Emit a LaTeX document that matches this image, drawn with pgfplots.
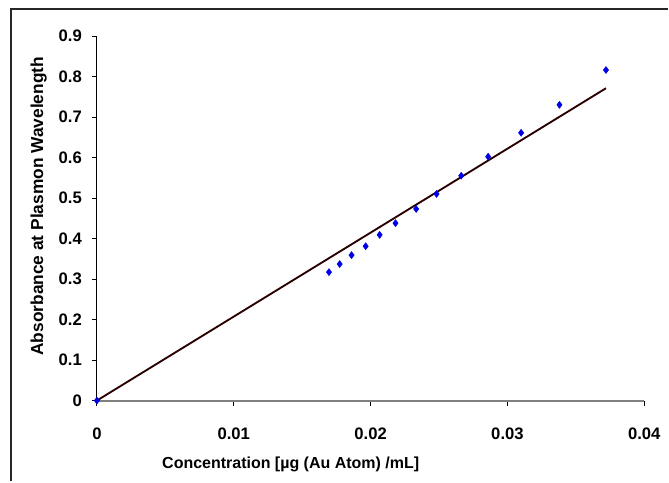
\documentclass[border=0pt]{standalone}
\usepackage{fontspec}
\setmainfont{Liberation Sans}
\usepackage{pgfplots}
\pgfplotsset{compat=1.18}

\definecolor{fitline}{RGB}{40,0,0}
\definecolor{pts}{RGB}{0,0,230}

\begin{document}
\begin{tikzpicture}
\begin{axis}[
  at={(0,0)}, anchor=south west,
  scale only axis,
  width=411pt, height=273.75pt,
  xmin=0, xmax=0.04, ymin=0, ymax=0.9,
  axis x line=bottom, axis y line=left,
  axis line style={-},
  x axis line style={draw=gray, line width=1.4pt},
  y axis line style={draw=black, line width=0.8pt},
  scaled x ticks=false, scaled y ticks=false,
  xtick={0,0.01,0.02,0.03,0.04},
  xticklabels={0,0.01,0.02,0.03,0.04},
  ytick={0,0.1,...,0.9},
  yticklabels={0,0.1,0.2,0.3,0.4,0.5,0.6,0.7,0.8,0.9},
  tick align=outside,
  major tick length=3.75pt,
  tick style={black, line width=0.6pt},
  ticklabel style={font=\fontsize{12.5}{14}\selectfont\bfseries},
  xticklabel style={yshift=-13pt},
  yticklabel style={xshift=-4pt},
  xlabel={Concentration [µg (Au Atom) /mL]},
  ylabel={Absorbance at Plasmon Wavelength},
  xlabel style={font=\fontsize{12}{14}\selectfont\bfseries, xshift=-60pt, yshift=-6pt},
  ylabel style={font=\fontsize{13}{15}\selectfont\bfseries, xshift=9pt, yshift=2pt},
  clip=false,
]
% fitted line
\addplot[color=fitline, line width=1.4pt] coordinates {(0,0) (0.0372,0.771)};
% measured points
\addplot[only marks, mark=diamond*, mark size=2.6pt, color=pts] table {
  0        0
  0.01696  0.317
  0.01774  0.337
  0.01861  0.359
  0.01964  0.381
  0.02066  0.409
  0.02182  0.438
  0.02333  0.473
  0.02482  0.510
  0.02662  0.555
  0.02859  0.602
  0.0310   0.661
  0.0338   0.730
  0.0372   0.816
};
\end{axis}
% outer chart frame
\draw[line width=1.1pt, draw=black!85] (-64.5pt,-60.75pt) -- (-64.5pt,294pt) -- (429pt,294pt);
\useasboundingbox (-72.75pt,-60.75pt) rectangle (429pt,300.75pt);
\end{tikzpicture}
\end{document}
